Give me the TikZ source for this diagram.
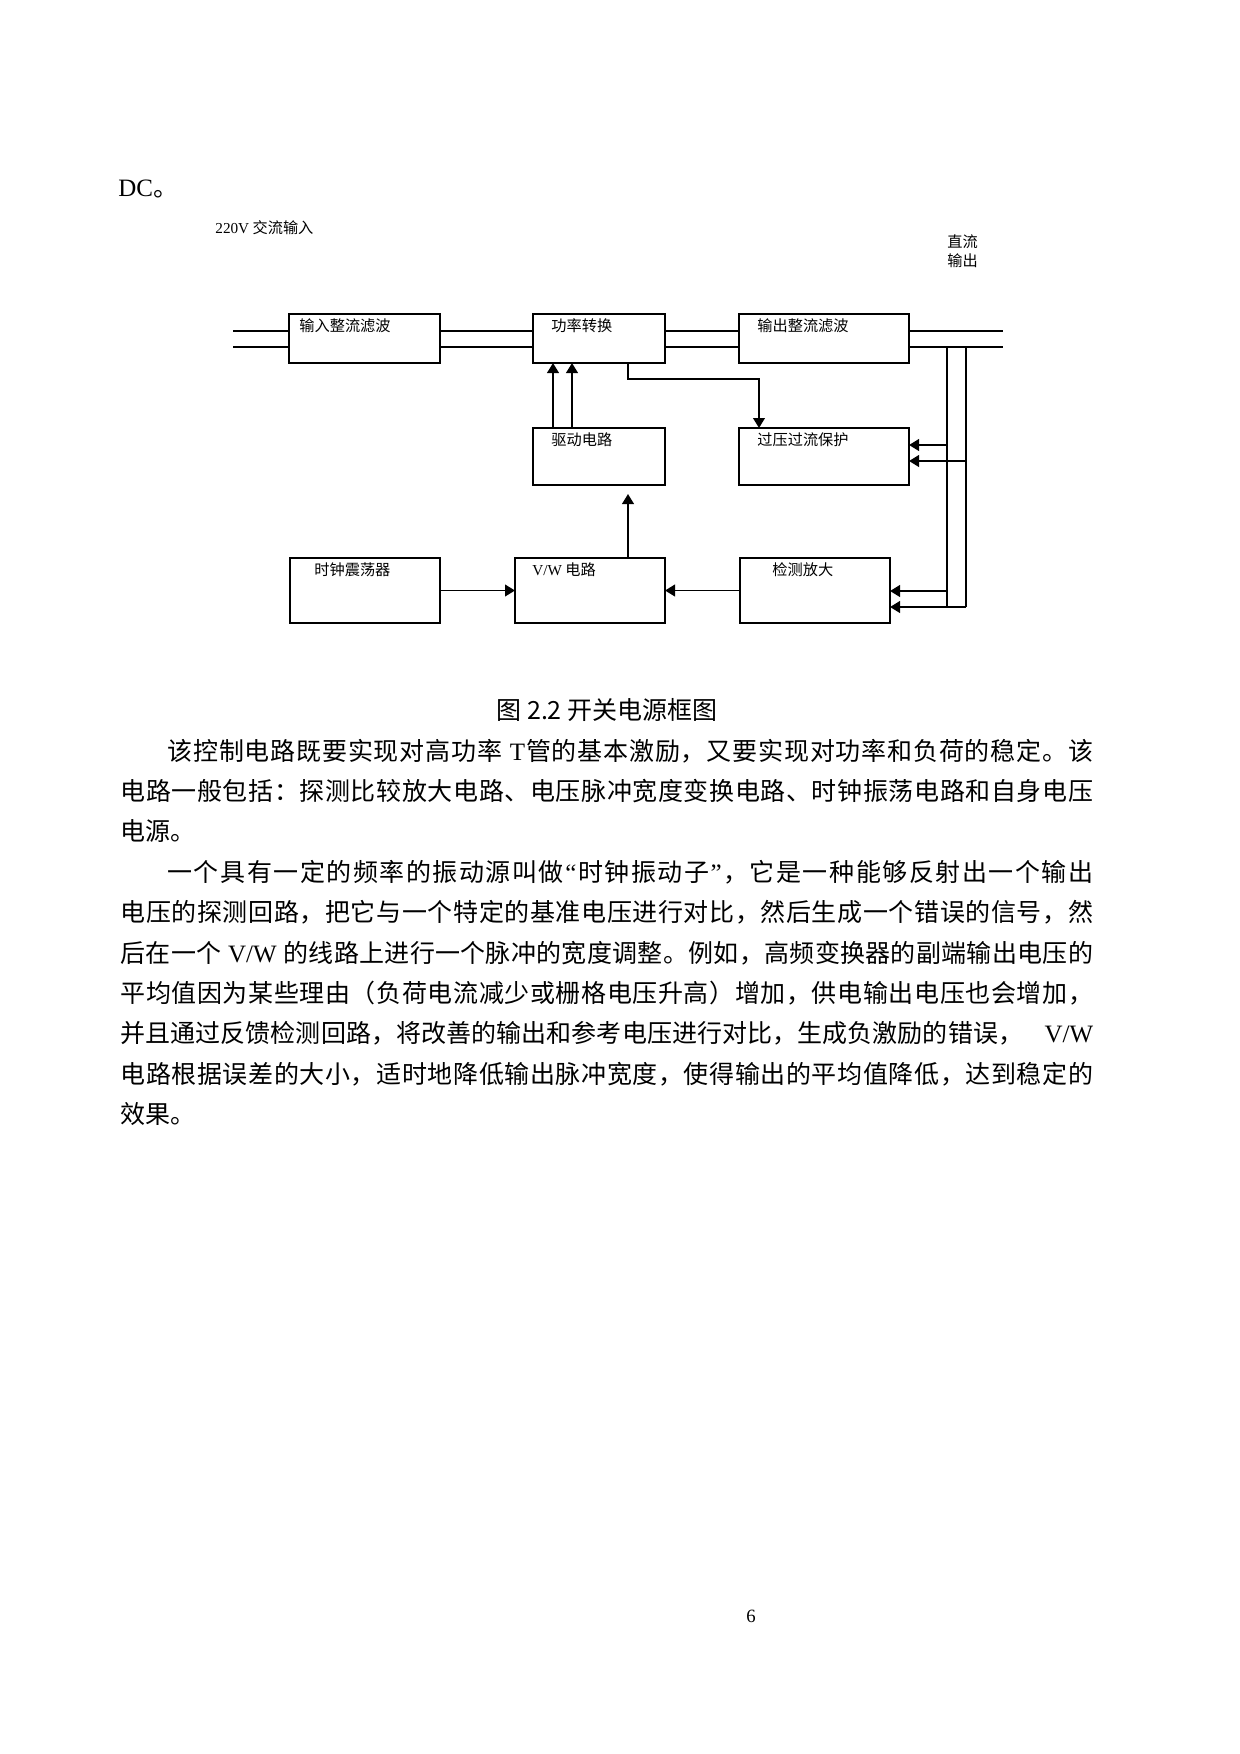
\documentclass[tikz,border=0pt]{standalone}
\usepackage{fontspec}
\setmainfont{Liberation Serif}
\newfontfamily\cjk{Noto Sans CJK SC}
\usetikzlibrary{arrows.meta}
% token-by-token justification: put stretchable glue after every item
\makeatletter
\def\jl#1{\jl@#1\jl@end}
\def\jl@end{\jl@end}
\def\jl@#1{\ifx\jl@end#1\else#1\hskip0pt plus 2pt\relax\expandafter\jl@\fi}
\makeatother
\newcommand\jbox[2]{\hbox to #1{\jl{#2}\unskip}}
\newcommand\bodyfont{\fontsize{12pt}{14pt}\selectfont\cjk}
\newcommand\lblfont{\fontsize{7.3pt}{9pt}\selectfont\cjk}
\newcommand\lat[1]{{\rmfamily #1}}
\newcommand\bx[5]{\node[blk, minimum width={(#4-#2)*0.48008pt}, minimum height={(#5-#3)*0.48008pt}] (#1) at ({(#2+#4)/2},{(#3+#5)/2}) {};}
\begin{document}
\begin{tikzpicture}[x=0.48008pt, y=-0.48008pt,
  blk/.style={draw, line width=0.9pt, inner sep=0pt, outer sep=0pt},
  lbl/.style={anchor=base west, inner sep=0pt, font=\lblfont},
  wire/.style={line width=0.9pt},
  arr/.style={line width=0.9pt, -{Triangle[length=4.8pt,width=5.6pt]}},
  txt/.style={anchor=base west, inner sep=0pt, font=\bodyfont},
]
\fill[white] (0,0) rectangle (1240,1754);
\useasboundingbox (0,0) rectangle (1240,1754);

% ---- top text ----
\node[anchor=base west, inner sep=0pt, font=\fontsize{12pt}{14pt}\selectfont] (dc) at (118,196) {DC{\cjk 。}};
\node[lbl] (acin) at (215,233) {\lat{220V} 交流输入};
\node[lbl] (dcout1) at (947,247) {直流};
\node[lbl] (dcout2) at (947,266) {输出};

% ---- boxes ----
\bx{inrect}{289}{314}{440}{363}
\bx{power}{533}{314}{665}{363}
\bx{outrect}{739}{314}{909}{363}
\bx{drive}{533}{428}{665}{485}
\bx{prot}{739}{428}{909}{485}
\bx{clock}{290}{558}{440}{623}
\bx{vw}{515}{558}{665}{623}
\bx{detect}{740}{558}{890}{623}

\node[lbl] (inrectT) at (299,331) {输入整流滤波};
\node[lbl] (powerT) at (551,331) {功率转换};
\node[lbl] (outrectT) at (757,331) {输出整流滤波};
\node[lbl] (driveT) at (551,445) {驱动电路};
\node[lbl] (protT) at (757,445) {过压过流保护};
\node[lbl] (clockT) at (314,575) {时钟震荡器};
\node[lbl] (vwT) at (532,575) {\lat{V/W} 电路};
\node[lbl] (detectT) at (772,575) {检测放大};

% ---- bus lines ----
\coordinate (L1) at (233,331);
\coordinate (L2) at (233,347);
\coordinate (R1) at (1003,331);
\coordinate (R2) at (1003,347);
\draw[wire] (L1) -- (L1 -| inrect.west);
\draw[wire] (L2) -- (L2 -| inrect.west);
\draw[wire] (inrect.east |- L1) -- (power.west |- L1);
\draw[wire] (inrect.east |- L2) -- (power.west |- L2);
\draw[wire] (power.east |- L1) -- (outrect.west |- L1);
\draw[wire] (power.east |- L2) -- (outrect.west |- L2);
\draw[wire] (outrect.east |- R1) -- (R1);
\draw[wire] (outrect.east |- R2) -- (R2);

% ---- feedback verticals ----
\coordinate (V1top) at (947,347);
\coordinate (V1bot) at (947,607);
\coordinate (V2top) at (966,347);
\coordinate (V2bot) at (966,607);
\draw[wire] (V1top) -- (V1bot);
\draw[wire] (V2top) -- (V2bot);
\coordinate (P1) at (947,445);
\coordinate (P2) at (966,461);
\coordinate (D1) at (947,591);
\coordinate (D2) at (966,607);
\draw[arr] (P1) -- (P1 -| prot.east);
\draw[arr] (P2) -- (P2 -| prot.east);
\draw[arr] (D1) -- (D1 -| detect.east);
\draw[arr] (D2) -- (D2 -| detect.east);

% ---- inner connectors ----
\coordinate (xa) at (553,0);
\coordinate (xb) at (572,0);
\coordinate (xc) at (628,0);
\coordinate (xd) at (759,0);
\coordinate (yk) at (0,379);
\draw[arr] (drive.north -| xa) -- (power.south -| xa);
\draw[arr] (drive.north -| xb) -- (power.south -| xb);
\draw[arr] (power.south -| xc) |- (xd |- yk) -- (prot.north -| xd);
\coordinate (vwtip) at (628,494);
\draw[arr] (vw.north -| vwtip) -- (vwtip);
\draw[arr] (clock.east) -- (vw.west);
\draw[arr] (detect.west) -- (vw.east);

% ---- caption ----
\node[anchor=base, inner sep=0pt, font=\bodyfont] (cap) at (607,719) {图 2.2 开关电源框图};

% ---- body text ----
\node[txt] (p1a) at (167,760) {\jbox{444.5pt}{该控制电路既要实现对高功率{{\rmfamily\ T}}管的基本激励，又要实现对功率和负荷的稳定。该}};
\node[txt] (p1b) at (120,800.4) {\jbox{467pt}{电路一般包括：探测比较放大电路、电压脉冲宽度变换电路、时钟振荡电路和自身电压}};
\node[txt] (p1c) at (120,840.8) {电源。};
\node[txt] (p2a) at (167,881.2) {\jbox{444.5pt}{一个具有一定的频率的振动源叫做{{\rmfamily “}}时钟振动子{{\rmfamily ”}}，它是一种能够反射出一个输出}};
\node[txt] (p2b) at (120,921.6) {\jbox{467pt}{电压的探测回路，把它与一个特定的基准电压进行对比，然后生成一个错误的信号，然}};
\node[txt] (p2c) at (120,962) {\jbox{467pt}{后在一个{{\rmfamily\ V/W\ }}的线路上进行一个脉冲的宽度调整。例如，高频变换器的副端输出电压的}};
\node[txt] (p2d) at (120,1002.4) {\jbox{467pt}{平均值因为某些理由（负荷电流减少或栅格电压升高）增加，供电输出电压也会增加，}};
\node[txt] (p2e) at (120,1042.8) {\jbox{467pt}{并且通过反馈检测回路，将改善的输出和参考电压进行对比，生成负激励的错误，{{\hskip 10pt plus 10pt\rmfamily V/W}}}};
\node[txt] (p2f) at (120,1083.2) {\jbox{467pt}{电路根据误差的大小，适时地降低输出脉冲宽度，使得输出的平均值降低，达到稳定的}};
\node[txt] (p2g) at (120,1123.6) {效果。};

% ---- page number ----
\node[anchor=base west, inner sep=0pt, font=\fontsize{9pt}{11pt}\selectfont] (pg) at (746,1622) {6};
\end{tikzpicture}
\end{document}
